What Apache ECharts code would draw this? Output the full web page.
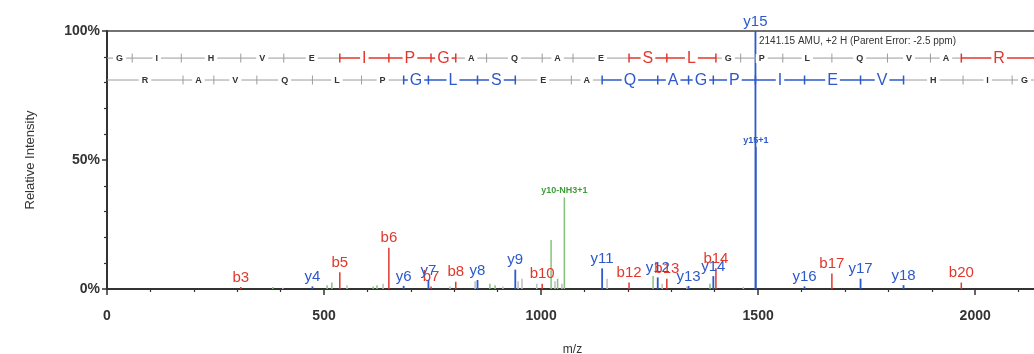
<!DOCTYPE html>
<html>
<head>
<meta charset="utf-8">
<script src="https://cdn.jsdelivr.net/npm/echarts@6/dist/echarts.min.js"></script>
<style>
  html, body { margin: 0; padding: 0; background: #fff; overflow: hidden; }
  #chart { width: 1100px; height: 354px; }
</style>
</head>
<body>
<div id="chart"></div>
<script>
// Peptide GIHVEIPGAQAESLGPLQVAR, MS/MS fragment spectrum

// Sequence ladders: residue letters and ion m/z boundaries
const bResidues = ['G','I','H','V','E','I','P','G','A','Q','A','E','S','L','G','P','L','Q','V','A','R'];
const bLadder = [0, 58.03, 171.11, 308.17, 407.24, 536.28, 649.37, 746.42, 803.44, 874.48, 1002.54,
  1073.57, 1202.62, 1289.65, 1402.73, 1459.75, 1556.81, 1669.89, 1797.95, 1897.02, 1968.06, 2142.16];
const bCovered = [5, 6, 7, 12, 13, 20];

const yResidues = ['R','A','V','Q','L','P','G','L','S','E','A','Q','A','G','P','I','E','V','H','I','G'];
const yLadder = [0, 175.12, 246.16, 345.22, 473.28, 586.37, 683.42, 740.44, 853.53, 940.56, 1069.60,
  1140.64, 1268.70, 1339.73, 1396.75, 1493.81, 1606.89, 1735.93, 1835.00, 1972.06, 2085.15, 2142.16];
const yCovered = [6, 7, 8, 11, 12, 13, 14, 15, 16, 17];

// Assigned b ions
const bLabels = ['b3','b5','b6','b7','b8','b10','b12','b13','b14','b17','b20'];
const bMz = [308.17, 536.28, 649.37, 746.42, 803.44, 1002.54, 1202.62, 1289.65, 1402.73, 1669.89, 1968.06];
const bIntensity = [0.8, 6.5, 16, 1.0, 2.8, 2.0, 2.5, 4.0, 8.0, 6.0, 2.5];

// Assigned y ions
const yLabels = ['y4','y6','y7','y8','y9','y11','y12','y13','y14','y15','y16','y17','y18'];
const yMz = [473.28, 683.42, 740.44, 853.53, 940.56, 1140.64, 1268.70, 1339.73, 1396.75, 1493.81, 1606.89, 1735.93, 1835.00];
const yIntensity = [1.0, 1.2, 3.5, 3.5, 7.5, 8.0, 4.5, 1.2, 5.0, 100, 1.0, 4.0, 1.5];

// Isotope peak of y15
const isoLabels = ['y15+1'];
const isoMz = [1494.81];
const isoIntensity = [55];

// Neutral-loss peaks
const lossLabels = ['y10-NH3+1', '', '', '', '', '', '', '', '', '', '', ''];
const lossMz = [1053.58, 382, 507, 518, 613, 622, 882, 894, 1023, 1038, 1258, 1389];
const lossIntensity = [35.5, 0.8, 1.5, 2.5, 1.0, 1.5, 2.0, 1.5, 19, 4.0, 5.0, 2.0];

// Unassigned peaks
const otherMz = [405, 553, 636, 790, 848, 912, 947, 956, 990, 1032, 1048, 1152, 1279, 1336, 1466];
const otherIntensity = [0.5, 1.5, 2.0, 1.0, 3.0, 1.0, 3.0, 4.0, 2.0, 3.0, 2.0, 4.0, 2.0, 1.0, 0.8];

const xTicks = [0, 500, 1000, 1500, 2000];
const yTicks = [0, 50, 100];
const precursorText = '2141.15 AMU, +2 H (Parent Error: -2.5 ppm)';

const RED = '#e2372c';
const BLUE = '#2d59c9';
const GREEN = '#3f9f3a';
const FONT = 'Liberation Sans, Arial, sans-serif';

function peakSeries(name, mz, inten, labels, lineColor, textColor, font, lineWidth) {
  const data = mz.map((m, i) => [m, inten[i], labels ? labels[i] : '']);
  return {
    type: 'custom',
    name: name,
    clip: false,
    silent: true,
    data: data,
    renderItem: function (params, api) {
      const x = api.value(0), y = api.value(1);
      const lab = data[params.dataIndex][2];
      const p0 = api.coord([x, 0]);
      const p1 = api.coord([x, y]);
      const children = [{
        type: 'line',
        shape: { x1: p0[0], y1: p0[1], x2: p1[0], y2: p1[1] },
        style: { stroke: lineColor, lineWidth: lineWidth }
      }];
      if (lab) {
        children.push({
          type: 'text',
          style: {
            text: lab, x: p1[0], y: p1[1] - 2,
            align: 'center', verticalAlign: 'bottom',
            textAlign: 'center', textVerticalAlign: 'bottom',
            fill: textColor, font: font
          }
        });
      }
      return { type: 'group', children: children };
    }
  };
}

function ladderSeries(name, residues, ladder, covered, rowValue, color) {
  const data = residues.map((r, i) => [ladder[i], ladder[i + 1], rowValue]);
  const isCov = i => covered.indexOf(i) >= 0;
  return {
    type: 'custom',
    name: name,
    clip: false,
    silent: true,
    z: 5,
    data: data,
    renderItem: function (params, api) {
      const i = params.dataIndex;
      const a = api.coord([api.value(0), api.value(2)]);
      const b = api.coord([api.value(1), api.value(2)]);
      const cov = isCov(i);
      const segColor = cov ? color : '#9c9c9c';
      const children = [{
        type: 'line',
        shape: { x1: a[0], y1: a[1], x2: b[0], y2: b[1] },
        style: { stroke: segColor, lineWidth: cov ? 1.5 : 1 }
      }];
      if (i > 0) {
        const tickCov = cov || isCov(i - 1);
        children.push({
          type: 'line',
          shape: { x1: a[0], y1: a[1] - 4.5, x2: a[0], y2: a[1] + 4.5 },
          style: { stroke: tickCov ? color : '#9c9c9c', lineWidth: tickCov ? 1.5 : 1 }
        });
      }
      children.push({
        type: 'text',
        z2: 10,
        style: {
          text: residues[i], x: (a[0] + b[0]) / 2, y: a[1] + 0.5,
          align: 'center', verticalAlign: 'middle',
          textAlign: 'center', textVerticalAlign: 'middle',
          fill: cov ? color : '#333',
          font: cov ? '16px ' + FONT : 'bold 9px ' + FONT,
          backgroundColor: '#fff',
          padding: cov ? [0, 2] : [0, 3]
        }
      });
      return { type: 'group', children: children };
    }
  };
}

const chart = echarts.init(document.getElementById('chart'), null, { renderer: 'canvas' });

chart.setOption({
  animation: false,
  backgroundColor: '#fff',
  grid: {
    left: 107, top: 31, height: 258, width: 955,
    outerBoundsMode: 'none', containLabel: false,
    show: true, borderColor: '#444', borderWidth: 1.5, backgroundColor: 'transparent'
  },
  xAxis: {
    type: 'value',
    min: 0, max: 2200, interval: 500,
    name: 'm/z', nameLocation: 'middle', nameGap: 55,
    nameTextStyle: { color: '#333', fontSize: 12, fontFamily: FONT, padding: [0, 24, 0, 0] },
    axisLine: { show: true, lineStyle: { color: '#333', width: 2 } },
    axisTick: { show: true, length: 6, lineStyle: { color: '#333', width: 1.5 } },
    minorTick: { show: true, splitNumber: 5, length: 3, lineStyle: { color: '#333', width: 1.2 } },
    splitLine: { show: false },
    axisLabel: {
      margin: 20, color: '#333', fontSize: 14, fontWeight: 'bold', fontFamily: FONT,
      formatter: v => (xTicks.indexOf(v) >= 0 ? String(v) : '')
    }
  },
  yAxis: {
    type: 'value',
    min: 0, max: 100, interval: 50,
    name: 'Relative Intensity', nameLocation: 'middle', nameGap: 70,
    nameTextStyle: { color: '#333', fontSize: 13, fontFamily: FONT },
    axisLine: { show: true, lineStyle: { color: '#333', width: 2 } },
    axisTick: { show: true, length: 5, lineStyle: { color: '#333', width: 1.5 } },
    minorTick: { show: true, splitNumber: 5, length: 3, lineStyle: { color: '#333', width: 1.2 } },
    splitLine: { show: false },
    axisLabel: {
      margin: 7, color: '#333', fontSize: 14, fontWeight: 'bold', fontFamily: FONT,
      formatter: v => (yTicks.indexOf(v) >= 0 ? v + '%' : '')
    }
  },
  graphic: [{
    type: 'text',
    left: 759, top: 36,
    style: { text: precursorText, fill: '#333', font: '10px ' + FONT }
  }],
  series: [
    peakSeries('unassigned', otherMz, otherIntensity, null, '#bdbdbd', '#999', '9px ' + FONT, 1.5),
    peakSeries('neutral loss', lossMz, lossIntensity, lossLabels, '#86c27e', GREEN, 'bold 9px ' + FONT, 1.5),
    peakSeries('isotope', isoMz, isoIntensity, isoLabels, BLUE, BLUE, 'bold 9px ' + FONT, 1.5),
    peakSeries('b ions', bMz, bIntensity, bLabels, RED, RED, '15px ' + FONT, 1.5),
    peakSeries('y ions', yMz, yIntensity, yLabels, BLUE, BLUE, '15px ' + FONT, 1.8),
    ladderSeries('b ladder', bResidues, bLadder, bCovered, 89.5, RED),
    ladderSeries('y ladder', yResidues, yLadder, yCovered, 81, BLUE)
  ]
});
</script>
</body>
</html>
